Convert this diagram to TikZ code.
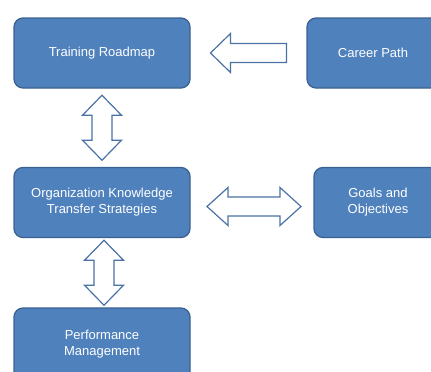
\documentclass[tikz,border=0pt]{standalone}
\usepackage{fontspec}
\setmainfont{Liberation Sans}
\usetikzlibrary{calc}
\definecolor{boxfill}{HTML}{4F81BD}
\definecolor{boxedge}{HTML}{3B6190}
\definecolor{arrowedge}{HTML}{4A72A4}
\begin{document}
\begin{tikzpicture}[x=1pt,y=-1pt,
  box/.style={draw=boxedge, fill=boxfill, line width=1.3pt, rounded corners=9pt,
    text=white, font=\fontsize{13}{16}\selectfont, align=center, inner sep=0pt},
  blockarrow/.style={draw=arrowedge, fill=white, line width=1.2pt, line join=miter}]
\useasboundingbox (0,0) rectangle (431,372);
\clip (0,0) rectangle (431,372);

% boxes
\node[box, minimum width=176pt, minimum height=70pt] (tr) at (102,53) {Training Roadmap};
\node[box, minimum width=132pt, minimum height=70pt] (cp) at (373,53) {Career Path};
\node[box, minimum width=176pt, minimum height=70pt] (ok) at (102,202.5) {Organization Knowledge\\Transfer Strategies};
\node[box, minimum width=128pt, minimum height=70pt] (go) at (378,202.5) {Goals and\\Objectives};
\node[box, minimum width=176pt, minimum height=72pt] (pm) at (102,344) {Performance\\Management};

% block arrow from Career Path to Training Roadmap
\coordinate (a1) at ($(tr.east)!0.5!(cp.west)$);
\draw[blockarrow] ($(a1)+(-38,0)$) -- ++(20,-19.5) -- ++(0,10) -- ++(56,0)
  -- ++(0,19) -- ++(-56,0) -- ++(0,10) -- cycle;

% two-way arrow between Training Roadmap and the strategies box
\coordinate (a2) at ($(tr.south)!0.5!(ok.north)$);
\draw[blockarrow] ($(a2)+(0,-32.5)$) -- ++(19.5,20) -- ++(-9.5,0) -- ++(0,25)
  -- ++(9.5,0) -- ++(-19.5,20) -- ++(-19.5,-20) -- ++(9.5,0) -- ++(0,-25)
  -- ++(-9.5,0) -- cycle;

% two-way arrow between the strategies box and Goals and Objectives
\coordinate (a3) at ($(ok.east)!0.5!(go.west)+(2,4)$);
\draw[blockarrow] ($(a3)+(-47,0)$) -- ++(21,-19) -- ++(0,9.5) -- ++(52,0)
  -- ++(0,-9.5) -- ++(21,19) -- ++(-21,19) -- ++(0,-9.5) -- ++(-52,0)
  -- ++(0,9.5) -- cycle;

% two-way arrow between the strategies box and Performance Management
\coordinate (a4) at ($(ok.south)!0.5!(pm.north)+(2,0)$);
\draw[blockarrow] ($(a4)+(0,-32.5)$) -- ++(19.5,20) -- ++(-9.5,0) -- ++(0,25)
  -- ++(9.5,0) -- ++(-19.5,20) -- ++(-19.5,-20) -- ++(9.5,0) -- ++(0,-25)
  -- ++(-9.5,0) -- cycle;
\end{tikzpicture}
\end{document}
